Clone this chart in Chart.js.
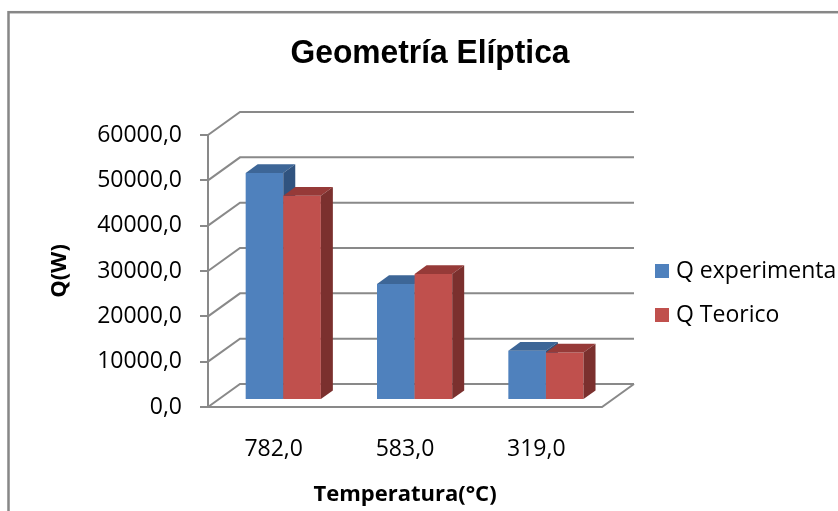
<!DOCTYPE html>
<html>
<head>
<meta charset="utf-8">
<script src="https://cdn.jsdelivr.net/npm/chart.js@4/dist/chart.umd.min.js"></script>
<style>
  html, body { margin: 0; padding: 0; background: #ffffff; }
  #wrap { width: 838px; height: 511px; position: relative; overflow: hidden; }
</style>
</head>
<body>
<div id="wrap"><canvas id="c" width="838" height="511"></canvas></div>
<script>
// Heat flow Q(W) per temperature (°C)
const temperatures = ['782,0', '583,0', '319,0'];
const qExperimental = [50100, 25600, 10900];
const qTeorico = [45100, 27800, 10500];
const yTickValues = [0, 10000, 20000, 30000, 40000, 50000, 60000];
const seriesNames = ['Q experimenta', 'Q Teorico'];
const chartTitle = 'Geometría Elíptica';

// colours of the three visible faces of each column
const faces = [
  { front: '#4F81BD', top: '#3D6697', side: '#30537F' },
  { front: '#C0504D', top: '#963A38', side: '#7B302E' }
];

// 3D projection: wall depth, where columns sit inside it, and column thickness
const WALL = { dx: 32, dy: -23 };
const BAR_SHIFT = { dx: 9.6, dy: -6.9 };
const BAR_DEPTH = { dx: 12, dy: -8.7 };
const LINE = '#898989';

const fmt = v => Number(v).toFixed(1).replace('.', ',');

function drawFaces(ctx, meta, f) {
  meta.data.forEach(bar => {
    const { x, y, base, width } = bar.getProps(['x', 'y', 'base', 'width'], true);
    const l = x - width / 2, r = x + width / 2;
    ctx.fillStyle = f.top;
    ctx.beginPath();
    ctx.moveTo(l, y);
    ctx.lineTo(r, y);
    ctx.lineTo(r + BAR_DEPTH.dx, y + BAR_DEPTH.dy);
    ctx.lineTo(l + BAR_DEPTH.dx, y + BAR_DEPTH.dy);
    ctx.closePath();
    ctx.fill();
    ctx.fillStyle = f.side;
    ctx.beginPath();
    ctx.moveTo(r, y);
    ctx.lineTo(r + BAR_DEPTH.dx, y + BAR_DEPTH.dy);
    ctx.lineTo(r + BAR_DEPTH.dx, base + BAR_DEPTH.dy);
    ctx.lineTo(r, base);
    ctx.closePath();
    ctx.fill();
  });
}

const wallPlugin = {
  id: 'walls',
  beforeDraw(chart) {
    const ctx = chart.ctx;
    ctx.save();
    ctx.fillStyle = '#ffffff';
    ctx.fillRect(0, 0, chart.width, chart.height);
    ctx.strokeStyle = '#878787';
    ctx.lineWidth = 2.5;
    ctx.strokeRect(8.5, 12.2, 1200, 1200);
    ctx.restore();
  },
  beforeDatasetsDraw(chart) {
    const { ctx, chartArea: a, scales: { y } } = chart;
    ctx.save();
    ctx.strokeStyle = LINE;
    ctx.lineWidth = 2;
    yTickValues.forEach(v => {
      const py = y.getPixelForValue(v);
      ctx.beginPath();
      ctx.moveTo(a.left, py);
      ctx.lineTo(a.left + WALL.dx, py + WALL.dy);
      ctx.lineTo(a.right + WALL.dx, py + WALL.dy);
      ctx.stroke();
    });
    const y0 = y.getPixelForValue(0);
    ctx.beginPath();
    ctx.moveTo(a.left, y0);
    ctx.lineTo(a.right, y0);
    ctx.lineTo(a.right + WALL.dx, y0 + WALL.dy);
    ctx.stroke();
    ctx.restore();
  },
  // columns are painted below, series by series, so each one's depth faces
  // sit behind the next series' front face
  beforeDatasetDraw() { return false; },
  afterDatasetsDraw(chart) {
    const ctx = chart.ctx;
    ctx.save();
    ctx.translate(BAR_SHIFT.dx, BAR_SHIFT.dy);
    chart.data.datasets.forEach((ds, i) => {
      const meta = chart.getDatasetMeta(i);
      meta.controller.draw();
      drawFaces(ctx, meta, faces[i]);
    });
    ctx.restore();
  },
  afterDraw(chart) {
    const ctx = chart.ctx;
    ctx.save();
    // title
    ctx.fillStyle = '#000';
    ctx.font = 'bold 34px "Liberation Sans", Arial, sans-serif';
    ctx.textAlign = 'center';
    ctx.textBaseline = 'alphabetic';
    const w = ctx.measureText(chartTitle).width;
    ctx.translate(430, 63);
    ctx.scale(279 / w, 1);
    ctx.fillText(chartTitle, 0, 0);
    ctx.setTransform(1, 0, 0, 1, 0, 0);
    // legend
    ctx.font = '23px "Open Sans", sans-serif';
    ctx.textAlign = 'left';
    ctx.textBaseline = 'middle';
    chart.data.datasets.forEach((ds, i) => {
      const cy = 271 + i * 44;
      ctx.fillStyle = ds.backgroundColor;
      ctx.fillRect(655, cy - 7, 14, 14);
      ctx.fillStyle = '#000';
      ctx.fillText(ds.label, 676, cy);
    });
    ctx.restore();
  }
};

new Chart(document.getElementById('c'), {
  type: 'bar',
  data: {
    labels: temperatures,
    datasets: [
      { label: seriesNames[0], data: qExperimental, backgroundColor: faces[0].front },
      { label: seriesNames[1], data: qTeorico, backgroundColor: faces[1].front }
    ]
  },
  options: {
    responsive: false,
    animation: false,
    devicePixelRatio: 1,
    layout: { padding: { left: 0, top: 135, right: 236, bottom: 0 } },
    datasets: { bar: { categoryPercentage: 0.5725, barPercentage: 1, borderWidth: 0 } },
    plugins: {
      legend: { display: false },
      title: { display: false },
      tooltip: { enabled: false }
    },
    scales: {
      x: {
        grid: { display: false, drawTicks: false },
        border: { display: false },
        ticks: { color: '#000', font: { family: '"Open Sans", sans-serif', size: 23 }, padding: 29 },
        title: {
          display: true,
          text: 'Temperatura(°C)',
          color: '#000',
          font: { family: '"Open Sans", sans-serif', size: 22, weight: 'bold' },
          padding: { top: 0, bottom: 3 }
        },
        afterFit(s) { s.height = 104; }
      },
      y: {
        min: 0,
        max: 60000,
        afterBuildTicks(s) { s.ticks = yTickValues.map(v => ({ value: v })); },
        grid: { drawOnChartArea: false, drawTicks: true, tickLength: 8, color: LINE, lineWidth: 2 },
        border: { display: true, color: LINE, width: 2 },
        ticks: {
          color: '#000',
          font: { family: '"Open Sans", sans-serif', size: 23 },
          padding: 18,
          callback: v => fmt(v)
        },
        title: {
          display: true,
          text: 'Q(W)',
          color: '#000',
          font: { family: '"Open Sans", sans-serif', size: 22, weight: 'bold' },
          padding: { top: 47, bottom: 0 }
        },
        afterFit(s) { s.width = 208; }
      }
    }
  },
  plugins: [wallPlugin]
});
</script>
</body>
</html>
